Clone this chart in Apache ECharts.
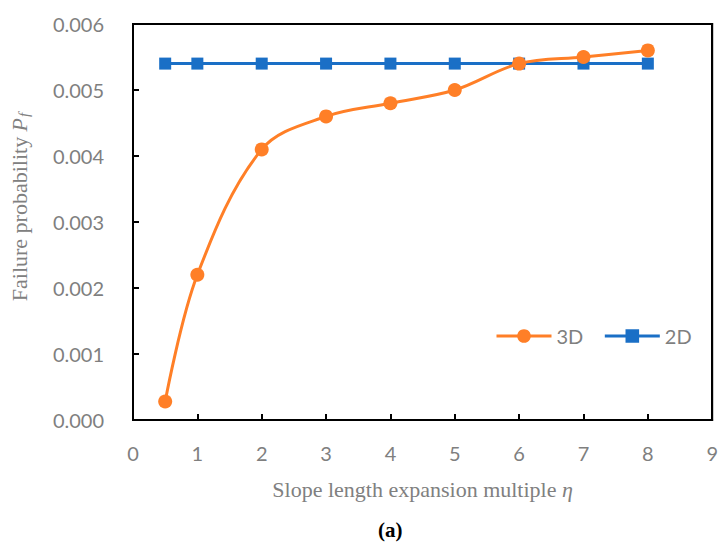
<!DOCTYPE html>
<html>
<head>
<meta charset="utf-8">
<script src="https://cdn.jsdelivr.net/npm/echarts@6/dist/echarts.min.js"></script>
<style>html,body{margin:0;padding:0;background:#fff;}#c{width:721px;height:545px;}</style>
</head>
<body>
<div id="c"></div>
<script>
const xValues = [0.5, 1, 2, 3, 4, 5, 6, 7, 8];
const pf3D = [0.00028, 0.0022, 0.0041, 0.0046, 0.0048, 0.0050, 0.0054, 0.0055, 0.0056];
const pf2D = [0.0054, 0.0054, 0.0054, 0.0054, 0.0054, 0.0054, 0.0054, 0.0054, 0.0054];
const seriesNames = ['3D', '2D'];
const xRange = [0, 9];
const yRange = [0, 0.006];

const chart = echarts.init(document.getElementById('c'), null, {renderer: 'svg'});
const sansFont = 'Lato, "Open Sans", sans-serif';
const serifFont = '"Liberation Serif", "DejaVu Serif", serif';
const axisLineStyle = {show: true, onZero: false, lineStyle: {color: '#000000', width: 2, opacity: 1}};
const frameAxis = {
  show: true,
  axisLine: axisLineStyle,
  axisTick: {show: false}, axisLabel: {show: false}, splitLine: {show: false}
};
chart.setOption({
  animation: false,
  backgroundColor: '#fff',
  grid: {left: 130, top: 24, right: 6, bottom: 125, show: true, borderColor: '#000000', borderWidth: 2, backgroundColor: 'rgba(0,0,0,0)'},
  legend: {
    data: seriesNames,
    left: 490, top: 321,
    itemWidth: 55, itemHeight: 17, itemGap: 20,
    lineStyle: {width: 3},
    textStyle: {color: '#7f7f7f', fontSize: 20, fontFamily: sansFont}
  },
  xAxis: [{
    type: 'value', min: xRange[0], max: xRange[1], interval: 1,
    axisLine: axisLineStyle,
    axisTick: {show: true, inside: true, length: 6, lineStyle: {color: '#000000', width: 2}},
    splitLine: {show: false},
    axisLabel: {color: '#7f7f7f', fontSize: 20, fontFamily: sansFont, margin: 23},
    name: 'Slope length expansion multiple {i|η}',
    nameLocation: 'middle', nameGap: 58,
    nameTextStyle: {color: '#808080', fontSize: 22, fontFamily: serifFont,
      rich: {i: {fontStyle: 'italic', fontSize: 22, fontFamily: serifFont, color: '#808080'}}}
  }, Object.assign({type: 'value', position: 'top', min: xRange[0], max: xRange[1], interval: 1}, frameAxis)],
  yAxis: [{
    type: 'value', min: yRange[0], max: yRange[1], interval: 0.001,
    axisLine: axisLineStyle,
    axisTick: {show: true, inside: true, length: 6, lineStyle: {color: '#000000', width: 2}},
    splitLine: {show: false},
    axisLabel: {color: '#7f7f7f', fontSize: 20, fontFamily: sansFont, margin: 29,
      formatter: v => v.toFixed(3)},
    name: 'Failure probability {i|P}{s|f}',
    nameLocation: 'middle', nameGap: 102,
    nameTextStyle: {color: '#808080', fontSize: 22, fontFamily: serifFont, padding: [0, 0, 0, 30],
      rich: {
        i: {fontStyle: 'italic', fontSize: 22, fontFamily: serifFont, color: '#808080'},
        s: {fontStyle: 'italic', fontSize: 15, fontFamily: serifFont, color: '#808080', padding: [9, 0, 0, 1]}
      }}
  }, Object.assign({type: 'value', position: 'right', min: yRange[0], max: yRange[1], interval: 0.001}, frameAxis)],
  series: [
    {
      name: seriesNames[0], type: 'line', smooth: 0.35,
      data: xValues.map((x, i) => [x, pf3D[i]]),
      symbol: 'circle', symbolSize: 14,
      lineStyle: {color: '#ff7f27', width: 3},
      itemStyle: {color: '#ff7f27'},
      z: 3
    },
    {
      name: seriesNames[1], type: 'line',
      data: xValues.map((x, i) => [x, pf2D[i]]),
      symbol: 'rect', symbolSize: 12,
      lineStyle: {color: '#1a6fc6', width: 3},
      itemStyle: {color: '#1a6fc6'},
      z: 2
    }
  ],
  graphic: [
    {
      type: 'text', left: 378, top: 519,
      style: {text: '(a)', fill: '#000000', fontSize: 21, fontWeight: 'bold', fontFamily: serifFont}
    }
  ]
});
</script>
</body>
</html>
